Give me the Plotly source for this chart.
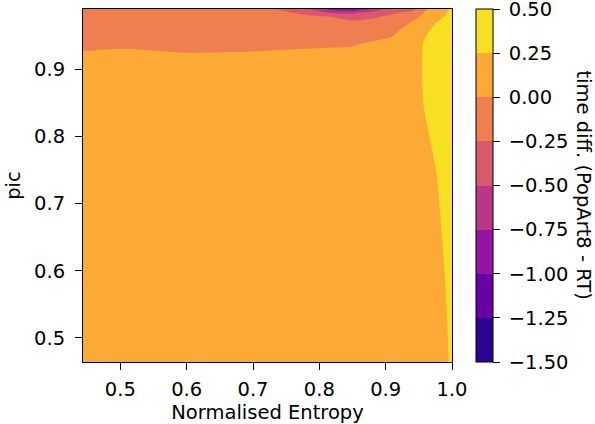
import plotly.graph_objects as go

# ---- data ----
entropy = [0.4437, 0.5, 0.6, 0.7, 0.73, 0.76, 0.79, 0.82, 0.85, 0.88, 0.91, 0.94, 0.96, 0.98, 1.0]
pic = [0.464, 0.55, 0.65, 0.75, 0.85, 0.9, 0.92, 0.94, 0.955, 0.97, 0.98, 0.985, 0.99]

z_0464 = [0.12, 0.12, 0.12, 0.12, 0.12, 0.12, 0.12, 0.12, 0.12, 0.12, 0.12, 0.12, 0.13, 0.16, 0.28]
z_0550 = [0.12, 0.12, 0.12, 0.12, 0.12, 0.12, 0.12, 0.12, 0.12, 0.12, 0.12, 0.12, 0.14, 0.18, 0.30]
z_0650 = [0.12, 0.12, 0.12, 0.12, 0.12, 0.12, 0.12, 0.12, 0.12, 0.12, 0.12, 0.12, 0.15, 0.22, 0.34]
z_0750 = [0.12, 0.12, 0.12, 0.12, 0.12, 0.12, 0.12, 0.12, 0.12, 0.12, 0.12, 0.13, 0.17, 0.27, 0.36]
z_0850 = [0.12, 0.12, 0.12, 0.12, 0.12, 0.12, 0.12, 0.12, 0.12, 0.12, 0.12, 0.15, 0.27, 0.33, 0.38]
z_0900 = [0.10, 0.10, 0.10, 0.10, 0.10, 0.10, 0.10, 0.10, 0.10, 0.10, 0.11, 0.16, 0.28, 0.36, 0.40]
z_0920 = [0.04, 0.06, 0.03, 0.04, 0.04, 0.05, 0.05, 0.05, 0.05, 0.07, 0.09, 0.16, 0.28, 0.36, 0.40]
z_0940 = [-0.07, -0.05, -0.09, -0.08, -0.06, -0.05, -0.04, -0.03, -0.02, 0.01, 0.04, 0.15, 0.27, 0.35, 0.40]
z_0955 = [-0.11, -0.10, -0.12, -0.12, -0.12, -0.10, -0.09, -0.09, -0.12, -0.07, -0.03, 0.10, 0.23, 0.33, 0.40]
z_0970 = [-0.14, -0.13, -0.15, -0.15, -0.16, -0.16, -0.17, -0.18, -0.22, -0.18, -0.10, 0.01, 0.15, 0.27, 0.35]
z_0980 = [-0.16, -0.15, -0.17, -0.17, -0.20, -0.20, -0.245, -0.27, -0.33, -0.30, -0.22, -0.08, 0.05, 0.20, 0.30]
z_0985 = [-0.17, -0.16, -0.18, -0.18, -0.22, -0.255, -0.35, -0.60, -0.60, -0.42, -0.29, -0.20, 0.02, 0.18, 0.30]
z_0990 = [-0.18, -0.17, -0.19, -0.20, -0.245, -0.30, -0.55, -0.85, -0.95, -0.72, -0.30, -0.32, -0.02, 0.15, 0.28]
time_diff = [z_0464, z_0550, z_0650, z_0750, z_0850, z_0900, z_0920, z_0940,
             z_0955, z_0970, z_0980, z_0985, z_0990]

levels = [-1.5, -1.25, -1.0, -0.75, -0.5, -0.25, 0.0, 0.25, 0.5]
level_labels = ["\u22121.50", "\u22121.25", "\u22121.00", "\u22120.75", "\u22120.50",
                "\u22120.25", "0.00", "0.25", "0.50"]
x_ticks = [0.5, 0.6, 0.7, 0.8, 0.9, 1.0]
x_ticklabels = ["0.5", "0.6", "0.7", "0.8", "0.9", "1.0"]
y_ticks = [0.5, 0.6, 0.7, 0.8, 0.9]
y_ticklabels = ["0.5", "0.6", "0.7", "0.8", "0.9"]

# ---- styling ----
band_colors = ["#2d0594", "#6602a6", "#9413a0", "#bb3588", "#d9596a",
               "#ef7e50", "#fcaa35", "#f7df24"]
nb = len(band_colors)
step = levels[1] - levels[0]
nlev = len(levels)

# contour fill samples the colorscale at band centres s = (k+1)/nlev
contour_cs = []
for k, c in enumerate(band_colors):
    lo = 0.0 if k == 0 else (k + 0.5) / nlev
    hi = 1.0 if k == nb - 1 else (k + 1.5) / nlev
    contour_cs += [[lo, c], [hi, c]]

bar_cs = []
for k, c in enumerate(band_colors):
    bar_cs += [[k / nb, c], [(k + 1) / nb, c]]

# keep end ticks just inside the colour range so they are not dropped
bar_tickvals = [min(max(v, levels[0] + 1e-9), levels[-1] - 1e-9) for v in levels]
bar_ticktext = ["\u2005" + t for t in level_labels]

FONT = "DejaVu Sans"
FS = 19.5
TL = 7

fig = go.Figure()
fig.add_trace(go.Contour(
    x=entropy, y=pic, z=time_diff,
    autocontour=False,
    contours=dict(start=levels[0], end=levels[-1], size=step,
                  coloring="fill", showlines=False),
    colorscale=contour_cs,
    line=dict(width=0, smoothing=0.7),
    showscale=False,
    hoverinfo="skip",
))

fig.add_trace(go.Scatter(
    x=[None], y=[None], mode="markers", showlegend=False, hoverinfo="skip",
    marker=dict(
        color=[levels[0]], cmin=levels[0], cmax=levels[-1], colorscale=bar_cs,
        showscale=True,
        colorbar=dict(
            thickness=17, thicknessmode="pixels",
            len=1, lenmode="fraction", y=0.5, yanchor="middle",
            x=1.065, xanchor="left", xpad=0, ypad=0,
            outlinewidth=1, outlinecolor="black",
            ticks="outside", ticklen=TL, tickwidth=1, tickcolor="black",
            tickvals=bar_tickvals, ticktext=bar_ticktext,
            ticklabeloverflow="allow",
            tickfont=dict(family=FONT, size=FS, color="black"),
        ),
    ),
))

axis_common = dict(
    showgrid=False, zeroline=False, automargin=False,
    showline=True, mirror=True, linecolor="black", linewidth=1,
    ticks="outside", ticklen=TL, tickwidth=1, tickcolor="black",
    tickfont=dict(family=FONT, size=FS, color="black"),
)

fig.update_layout(
    width=595, height=424,
    margin=dict(l=83, r=143, t=9, b=62),
    paper_bgcolor="white", plot_bgcolor="white",
    font=dict(family=FONT, size=FS, color="black"),
    xaxis=dict(range=[entropy[0], entropy[-1]], tickvals=x_ticks, ticktext=x_ticklabels,
               ticklabelstandoff=3,
               title=dict(text="Normalised Entropy", standoff=11,
                          font=dict(family=FONT, size=FS, color="black")),
               **axis_common),
    yaxis=dict(range=[pic[0], pic[-1]], tickvals=y_ticks, ticktext=y_ticklabels,
               ticklabelstandoff=6,
               title=dict(text="pic", standoff=8,
                          font=dict(family=FONT, size=FS, color="black")),
               **axis_common),
    annotations=[dict(
        text="time diff. (PopArt8 - RT)", textangle=90,
        xref="paper", yref="paper", x=1.3577, y=0.5,
        xanchor="center", yanchor="middle", showarrow=False,
        font=dict(family=FONT, size=FS, color="black"),
    )],
)

fig.write_html("out.html", config={"displayModeBar": False},
               post_script="document.body.style.margin='0px';")
